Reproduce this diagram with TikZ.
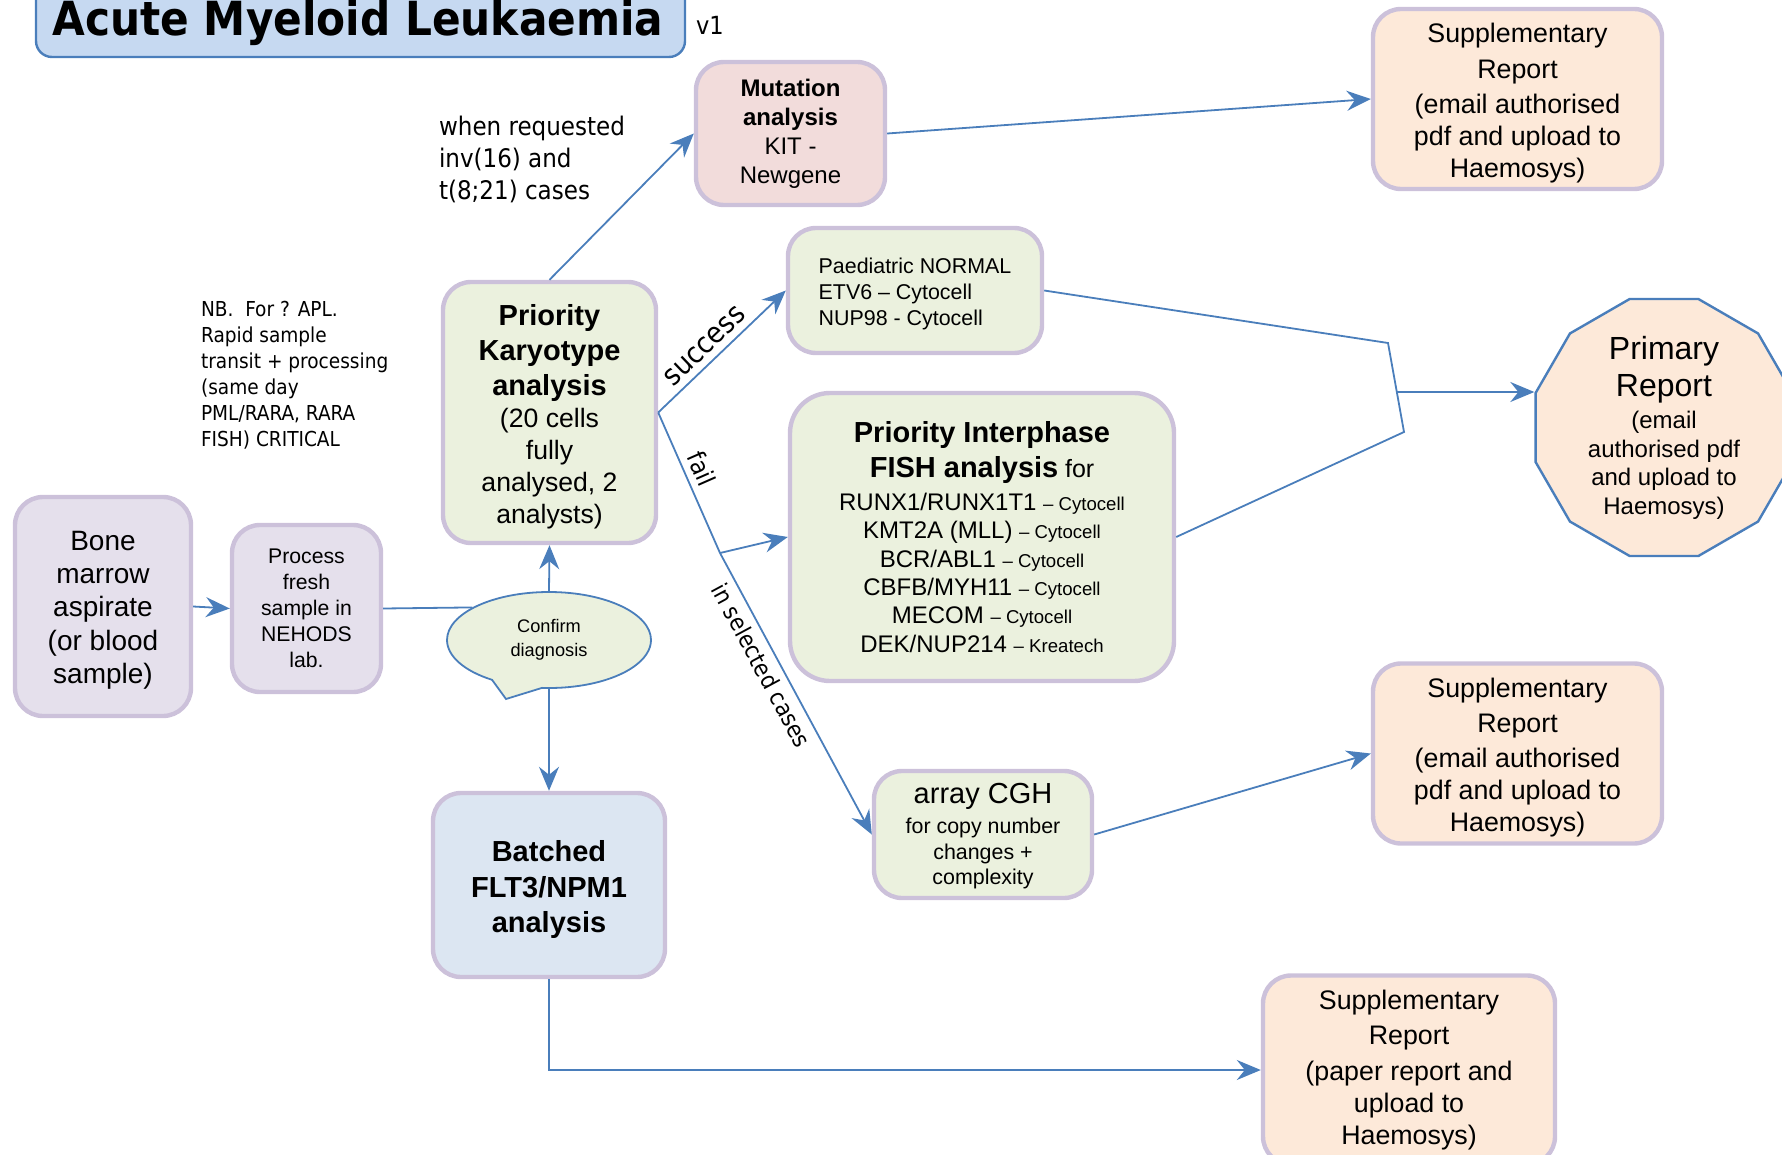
\documentclass[tikz,border=0pt]{standalone}
\usepackage{fontspec}
\setmainfont{Liberation Sans}
\newfontfamily\tahoma{DejaVu Sans Condensed}
\usetikzlibrary{arrows.meta,shapes.geometric,shapes.callouts}
\definecolor{lav}{HTML}{CCC1DA}
\definecolor{peach}{HTML}{FDE9D9}
\definecolor{sage}{HTML}{EBF1DE}
\definecolor{pink}{HTML}{F2DCDB}
\definecolor{lilac}{HTML}{E5E0EC}
\definecolor{paleblue}{HTML}{DCE6F2}
\definecolor{titlefill}{HTML}{C6D9F1}
\definecolor{link}{HTML}{4A7EBB}
\newcommand{\fsz}[2]{\fontsize{#1}{#2}\selectfont}
\newcommand{\hd}{\fsz{14.5}{17}\bfseries}
\newcommand{\firm}{\fsz{9.3}{11}}
\newcommand{\topgap}[1]{\rule{0pt}{#1}}
\begin{document}
\begin{tikzpicture}[x=0.5pt,y=-0.5pt,
  procbox/.style={draw=lav,line width=2.2pt,rounded corners=14pt,align=center,inner sep=1pt},
  suppbox/.style={procbox,fill=peach,font=\fsz{13.4}{16}},
  conn/.style={draw=link,line width=0.9pt},
  arr/.style={conn,-{Stealth[length=12pt,width=10pt,inset=4pt]}},
  lbl/.style={font=\tahoma\fsz{12.5}{15}}]
\useasboundingbox (0,0) rectangle (1782,1155);

\node[draw=link,fill=titlefill,line width=1.2pt,rounded corners=8pt,minimum width=324.5pt,minimum height=45pt] (title) at (360.5,12) {};
\node[font=\tahoma\bfseries\fsz{23.5}{28}] (titletext) at (358,23) {Acute Myeloid Leukaemia};
\node[font=\tahoma\fsz{12.5}{15},anchor=west] (ver) at (689,25) {v1};

\node[procbox,fill=lilac,minimum width=88pt,minimum height=109.5pt,font=\fsz{14}{16.7}] (bone) at (103,606.5) {\topgap{13.4pt}Bone\\marrow\\aspirate\\(or blood\\sample)};
\node[procbox,fill=lilac,minimum width=74.5pt,minimum height=83.5pt,font=\fsz{10.6}{13}] (proc) at (306.5,608.5) {Process\\fresh\\sample in\\NEHODS\\lab.};
\node[ellipse callout,draw=link,fill=sage,line width=0.9pt,minimum width=102pt,minimum height=48pt,inner sep=0pt,callout absolute pointer={(506,699)},callout pointer arc=30,align=center,font=\fsz{9.1}{12}] (conf) at (549,640) {Confirm\\diagnosis};
\node[procbox,fill=sage,minimum width=106.5pt,minimum height=130.5pt,font=\fsz{13.3}{16}] (kar) at (549.5,412.5) {{\hd\topgap{14.6pt}Priority}\\[1.5pt]{\hd Karyotype}\\[1.5pt]{\hd analysis}\\(20 cells\\fully\\analysed, 2\\analysts)};
\node[procbox,fill=paleblue,minimum width=116pt,minimum height=92pt,font=\fsz{14.5}{17.6}\bfseries] (bat) at (549,885) {\topgap{15pt}Batched\\FLT3/NPM1\\analysis};
\node[procbox,fill=pink,minimum width=94.5pt,minimum height=71.5pt,font=\fsz{12}{14.5}] (mut) at (790.5,133.5) {\textbf{Mutation}\\\textbf{analysis}\\KIT -\\Newgene};
\node[procbox,fill=sage,minimum width=127pt,minimum height=62.5pt,align=left,font=\fsz{10.7}{13}] (paed) at (915,290.5) {\topgap{11.2pt}Paediatric NORMAL\\ETV6 – Cytocell\\NUP98 - Cytocell};
\node[procbox,fill=sage,minimum width=192pt,minimum height=144pt,rounded corners=20pt,font=\fsz{12}{14.2}] (fish) at (982,537) {{\hd Priority Interphase}\\[3.3pt]{\hd FISH analysis} {\fsz{12.5}{14}for}\\[2.3pt]RUNX1/RUNX1T1 {\firm– Cytocell}\\KMT2A (MLL) {\firm– Cytocell}\\BCR/ABL1 {\firm– Cytocell}\\CBFB/MYH11 {\firm– Cytocell}\\MECOM {\firm– Cytocell}\\DEK/NUP214 {\firm– Kreatech}};
\node[procbox,fill=sage,minimum width=109pt,minimum height=63.5pt,font=\fsz{10.7}{12.7}] (cgh) at (983,834.5) {{\fsz{14.5}{16}\topgap{12pt}array CGH}\\[2.3pt]for copy number\\changes +\\complexity};
\node[suppbox,minimum width=144.5pt,minimum height=90pt] (supA) at (1517.5,99) {\topgap{13.9pt}Supplementary\\[1.6pt]Report\\[1.6pt](email authorised\\pdf and upload to\\Haemosys)};
\node[suppbox,minimum width=144.5pt,minimum height=90pt] (supB) at (1517.5,753.5) {\topgap{13.9pt}Supplementary\\[1.6pt]Report\\[1.6pt](email authorised\\pdf and upload to\\Haemosys)};
\node[suppbox,minimum width=146pt,minimum height=94.5pt] (supC) at (1409,1070) {Supplementary\\[1.6pt]Report\\[1.6pt](paper report and\\upload to\\Haemosys)};
\node[regular polygon,regular polygon sides=12,draw=link,fill=peach,line width=1.2pt,minimum size=133pt,inner sep=-2.5pt,align=center,font=\fsz{12}{14.2}] (prim) at (1664,427.5) {{\fsz{16}{19}Primary}\\[3.4pt]{\fsz{16}{19}Report}\\[2pt](email\\authorised pdf\\and upload to\\Haemosys)};

\node[font=\tahoma\fsz{10.3}{13},anchor=west,align=left] (nb) at (194,375) {NB.\ \ For ? APL.\\Rapid sample\\transit + processing\\(same day\\PML/RARA, RARA\\FISH) CRITICAL};
\node[font=\tahoma\fsz{12.8}{16},anchor=west,align=left] (req) at (432,159) {when requested\\inv(16) and\\t(8;21) cases};

\coordinate (fk) at (720,553);
\coordinate (mtop) at (1388,343);
\coordinate (mbot) at (1404,432);
\coordinate (mrg) at (1397,392);

\draw[arr] (bone.east) -- (proc.west);
\draw[conn] (proc.east) -- (conf.157);
\draw[arr] (conf.north) -- (kar.south);
\draw[arr] (conf.south) -- (bat.north);
\draw[arr] (kar.north) -- (mut.west);
\draw[arr] (mut.east) -- (supA.west);
\draw[arr] (kar.east) -- node[lbl,font=\tahoma\fsz{14.5}{16},sloped,above,pos=0.45]{success} (paed.west);
\draw[arr] (kar.east) -- node[lbl,sloped,above,pos=0.45]{fail} (fk) -- node[lbl,font=\tahoma\fsz{11.8}{14},sloped,below,pos=0.37]{in selected cases} (cgh.west);
\draw[arr] (fk) -- (fish.west);
\draw[conn] (paed.east) -- (mtop) -- (mbot) -- (fish.east);
\draw[arr] (mrg) -- (mrg -| prim.west);
\draw[arr] (cgh.east) -- (supB.west);
\draw[arr] (bat.south) |- (supC.west);
\end{tikzpicture}
\end{document}
